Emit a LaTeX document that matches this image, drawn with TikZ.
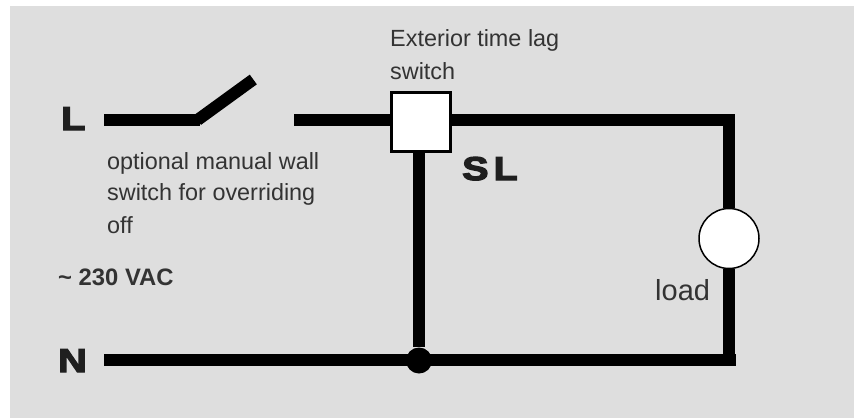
\documentclass[tikz,border=0pt]{standalone}
\usepackage{fontspec}
\setmainfont{Liberation Sans}
\newfontfamily\heavyfont[FakeBold=4,FakeStretch=1.2]{Liberation Sans Bold}
\tikzset{
  wire/.style={line width=12pt},
  caption/.style={anchor=base west,inner sep=0pt,text=black!80,font=\fontsize{23.4}{28}\selectfont},
  terminal/.style={anchor=base west,inner sep=0pt,text=black!88,font=\fontsize{33}{40}\heavyfont}
}
\begin{document}
\begin{tikzpicture}[x=1pt,y=-1pt]
\useasboundingbox (0,0) rectangle (854,418);
\fill[white] (0,0) rectangle (854,418);
\fill[black!13] (10,6) rectangle (854,418);

\node[terminal] (termL) at (61,130) {L};
\node[terminal] (termN) at (58,372) {N};
\node[terminal] (termSL) at (462,180) {S\kern5ptL};

\coordinate (startL) at (104,120);
\coordinate (hingeend) at (200,120);
\coordinate (hinge) at (197.5,120);
\coordinate (blade) at (253.3,79.5);
\coordinate (contact) at (294,120);
\coordinate (cornerT) at (729,114);
\coordinate (cornerB) at (729,366);
\coordinate (railT) at (723,120);
\coordinate (railB) at (736,360);
\coordinate (startN) at (104,360);

\node[draw,fill=white,line width=3pt,minimum size=59pt,inner sep=0pt] (lag) at (421,122) {};
\node[draw,fill=white,circle,line width=1.5pt,minimum size=60pt,inner sep=0pt] (loadc) at (729,238.5) {};
\node[circle,fill=black,minimum size=26pt,inner sep=0pt] (junction) at (419,360.5) {};

\draw[wire] (startL) -- (hingeend);
\draw[wire] (hinge) -- (blade);
\draw[wire] (contact) -- (contact -| lag.west);
\draw[wire] (railT -| lag.east) -- (railT);
\draw[wire] (cornerT) -- (loadc.north);
\draw[wire] (loadc.south) -- (cornerB);
\draw[wire] (startN) -- (railB);
\draw[wire] (junction |- lag.south) -- (junction);

\node[caption] (capLag1) at (390,46) {Exterior time lag};
\node[caption] (capLag2) at (390,79) {switch};
\node[caption] (capWall1) at (107,169) {optional manual wall};
\node[caption] (capWall2) at (107,200) {switch for overriding};
\node[caption] (capWall3) at (107,233) {off};
\node[caption,font=\fontsize{23.8}{28}\selectfont\bfseries] (capVolt) at (58,285) {\textasciitilde{} 230 VAC};
\node[caption,font=\fontsize{29}{34}\selectfont] (capLoad) at (655,300) {load};
\end{tikzpicture}
\end{document}
